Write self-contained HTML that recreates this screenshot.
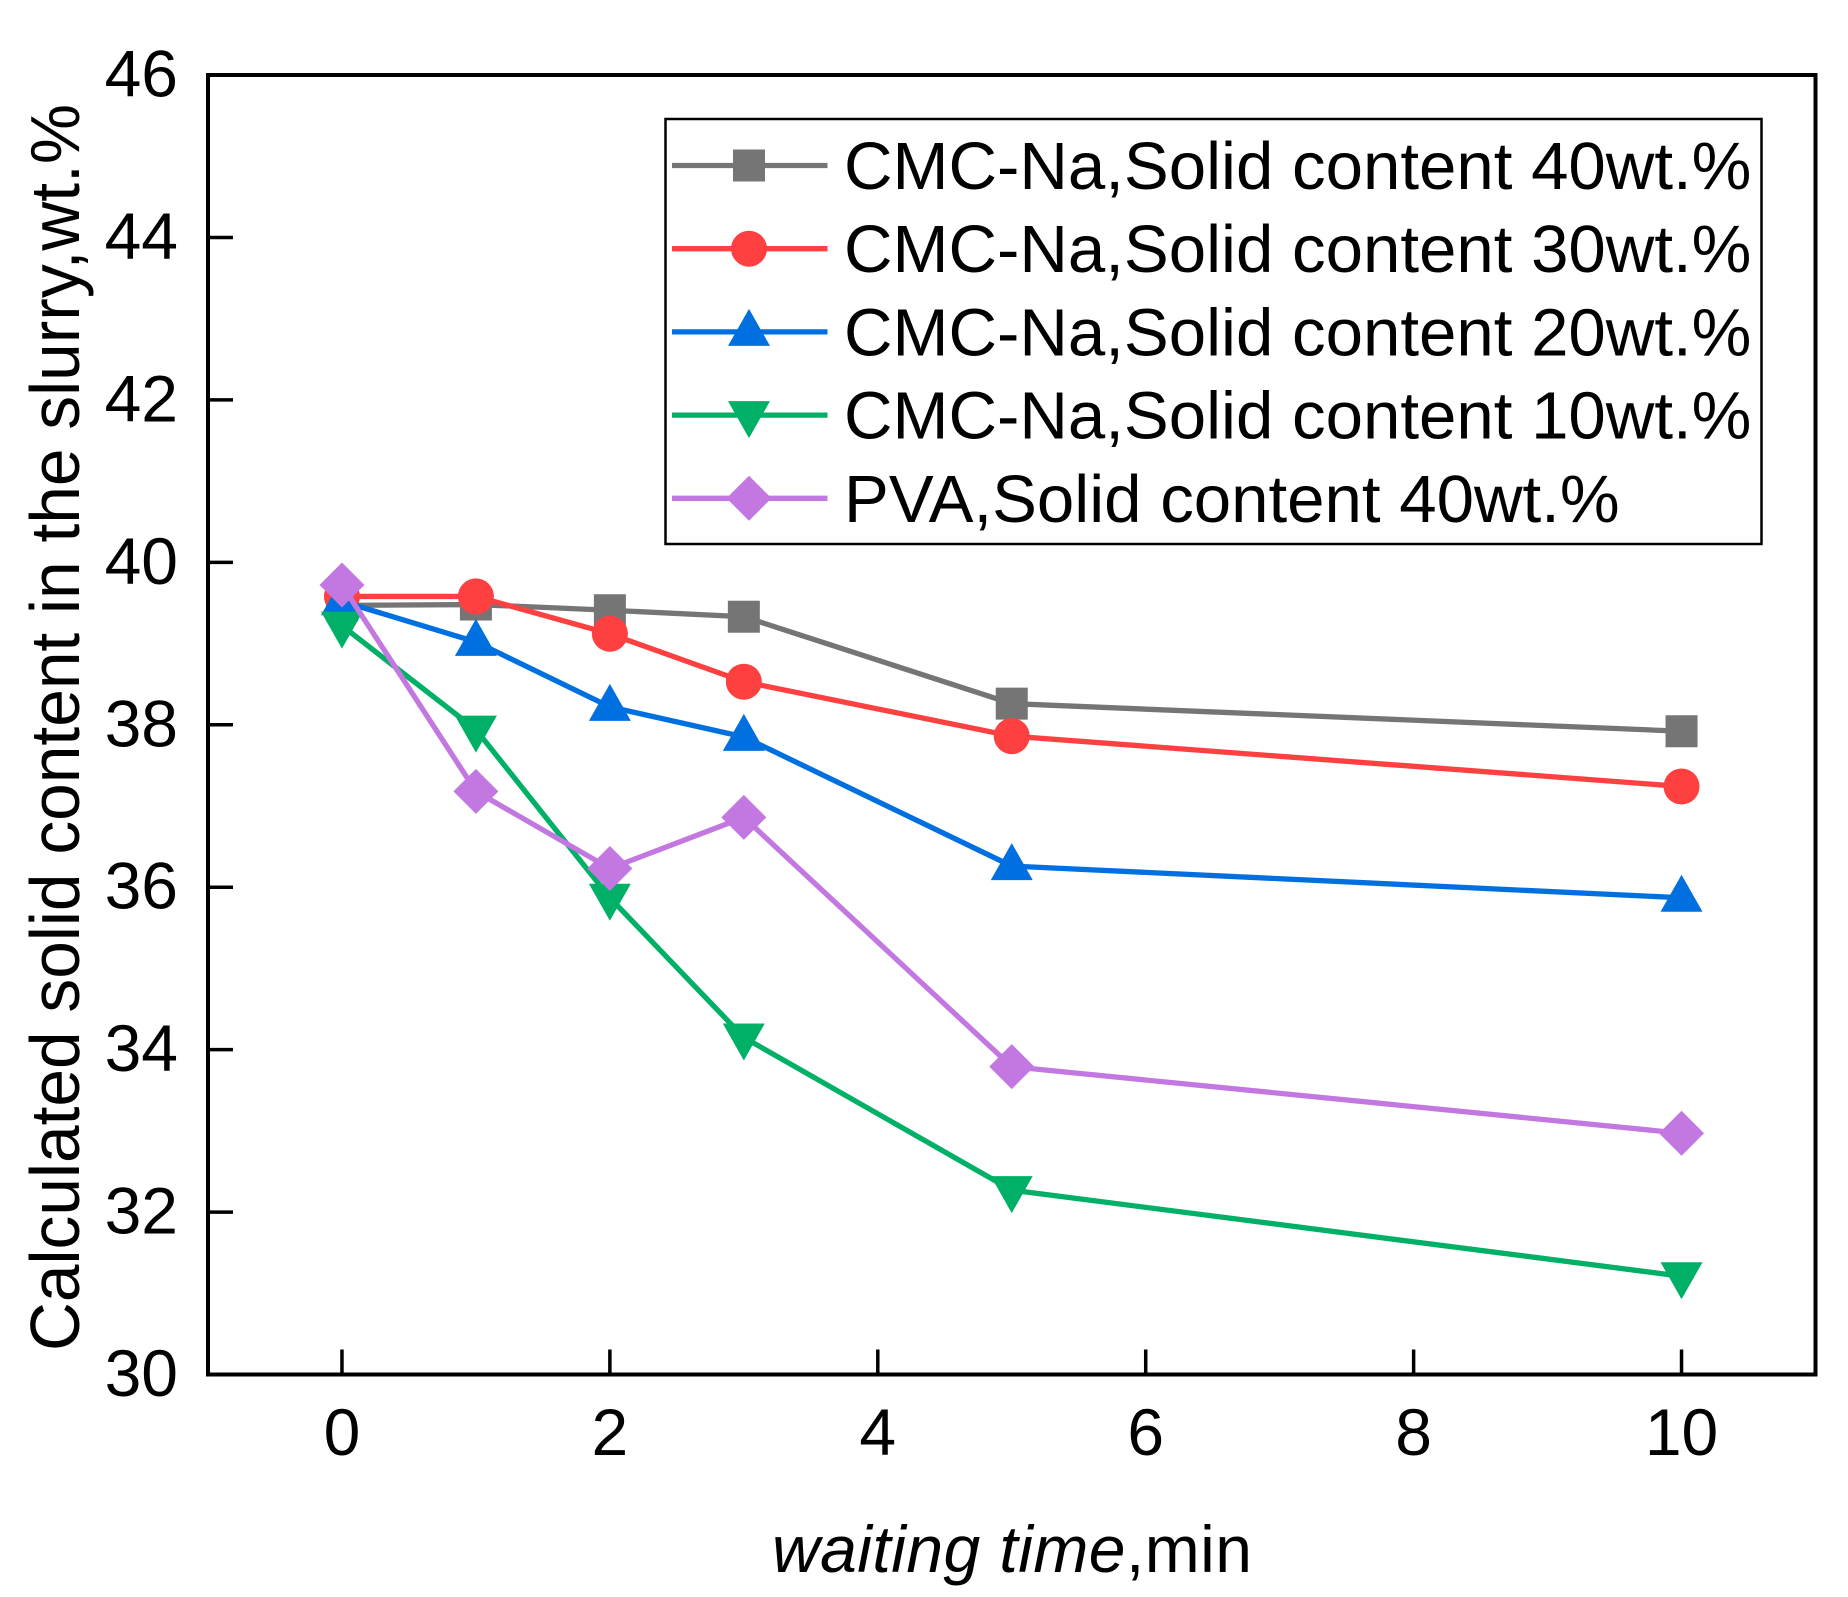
<!DOCTYPE html>
<html lang="en">
<head>
<meta charset="utf-8">
<title>Solid content vs waiting time</title>
<style>
html,body{margin:0;padding:0;background:#fff;width:1848px;height:1597px;overflow:hidden}
svg{display:block}
text{font-family:"Liberation Sans",Arial,sans-serif;fill:#000}
</style>
</head>
<body>
<svg id="chart" xmlns="http://www.w3.org/2000/svg" width="1848" height="1597" viewBox="0 0 1848 1597">
  <rect x="0" y="0" width="1848" height="1597" fill="#fff"/>
  <rect x="208" y="75" width="1607.5" height="1299.5" fill="none" stroke="#000" stroke-width="4"/>
  <g id="ticks"></g>
  <g id="series"></g>
  <rect x="665.5" y="119" width="1096" height="425" fill="#fff" stroke="#000" stroke-width="2.5"/>
  <g id="legend"></g>
  <text transform="translate(79 1351) rotate(-90)" font-size="70" textLength="1247" lengthAdjust="spacingAndGlyphs">Calculated solid content in the slurry,wt.%</text>
  <text x="772" y="1572" font-size="66" textLength="480" lengthAdjust="spacing"><tspan font-style="italic">waiting time</tspan>,min</text>
</svg>
<script>
const xTicks = [0, 2, 4, 6, 8, 10];
const yTicks = [30, 32, 34, 36, 38, 40, 42, 44, 46];
const waitingTimes = [0, 1, 2, 3, 5, 10];
const cmc40 = [39.47, 39.48, 39.41, 39.33, 38.26, 37.92];
const cmc30 = [39.58, 39.58, 39.12, 38.53, 37.86, 37.24];
const cmc20 = [39.52, 39.02, 38.22, 37.85, 36.26, 35.87];
const cmc10 = [39.22, 37.94, 35.87, 34.15, 32.27, 31.21];
const pva40 = [39.72, 37.18, 36.23, 36.86, 33.79, 32.97];
const legendLabels = [
  "CMC-Na,Solid content 40wt.%",
  "CMC-Na,Solid content 30wt.%",
  "CMC-Na,Solid content 20wt.%",
  "CMC-Na,Solid content 10wt.%",
  "PVA,Solid content 40wt.%"
];

const SVG_NS = "http://www.w3.org/2000/svg";
const plot = { left: 208, right: 1815.5, top: 75, bottom: 1374.5 };
const xDomain = [-1, 11];
const yDomain = [30, 46];

function xScale(v) {
  return plot.left + (v - xDomain[0]) / (xDomain[1] - xDomain[0]) * (plot.right - plot.left);
}
function yScale(v) {
  return plot.bottom - (v - yDomain[0]) / (yDomain[1] - yDomain[0]) * (plot.bottom - plot.top);
}
function make(tag, attrs, parent) {
  const el = document.createElementNS(SVG_NS, tag);
  for (const key in attrs) el.setAttribute(key, attrs[key]);
  parent.appendChild(el);
  return el;
}
function drawMarker(shape, cx, cy, color, parent, name) {
  let el;
  if (shape === "square") {
    el = make("rect", { x: cx - 16, y: cy - 16, width: 32, height: 32, fill: color }, parent);
  } else if (shape === "circle") {
    el = make("circle", { cx: cx, cy: cy, r: 18, fill: color }, parent);
  } else if (shape === "up") {
    el = make("polygon", { points: `${cx},${cy - 23} ${cx + 21},${cy + 14} ${cx - 21},${cy + 14}`, fill: color }, parent);
  } else if (shape === "down") {
    el = make("polygon", { points: `${cx - 21},${cy - 14} ${cx + 21},${cy - 14} ${cx},${cy + 23}`, fill: color }, parent);
  } else {
    el = make("polygon", { points: `${cx},${cy - 22.5} ${cx + 22.5},${cy} ${cx},${cy + 22.5} ${cx - 22.5},${cy}`, fill: color }, parent);
  }
  
  
  return el;
}

const tickGroup = document.getElementById("ticks");
yTicks.forEach(function (t) {
  const y = yScale(t);
  if (t !== yDomain[0] && t !== yDomain[1]) {
    const line = make("line", { x1: plot.left, x2: plot.left + 25, y1: y, y2: y, stroke: "#000", "stroke-width": 3.5 }, tickGroup);
    
    
  }
  const label = make("text", { x: 178, y: y + 21.5, "font-size": 66, "text-anchor": "end" }, tickGroup);
  
  
  label.textContent = t;
});
xTicks.forEach(function (t) {
  const x = xScale(t);
  const line = make("line", { x1: x, x2: x, y1: plot.bottom, y2: plot.bottom - 25, stroke: "#000", "stroke-width": 3.5 }, tickGroup);
  
  
  const label = make("text", { x: x, y: 1455, "font-size": 66, "text-anchor": "middle" }, tickGroup);
  
  
  label.textContent = t;
});

const seriesList = [
  { key: "cmc-40", values: cmc40, color: "#757575", shape: "square" },
  { key: "cmc-30", values: cmc30, color: "#FF4040", shape: "circle" },
  { key: "cmc-20", values: cmc20, color: "#0070E0", shape: "up" },
  { key: "cmc-10", values: cmc10, color: "#00B066", shape: "down" },
  { key: "pva-40", values: pva40, color: "#C278E0", shape: "diamond" }
];

const seriesGroup = document.getElementById("series");
seriesList.forEach(function (s) {
  const pts = s.values.map(function (v, i) {
    return xScale(waitingTimes[i]) + "," + yScale(v);
  }).join(" ");
  const line = make("polyline", { points: pts, fill: "none", stroke: s.color, "stroke-width": 5.3, "stroke-linejoin": "miter" }, seriesGroup);
  
  
  s.values.forEach(function (v, i) {
    drawMarker(s.shape, xScale(waitingTimes[i]), yScale(v), s.color, seriesGroup, 'point-' + s.key);
  });
});

const legendGroup = document.getElementById("legend");
const legendLineY = 165.5;
const legendStep = 83.2;
seriesList.forEach(function (s, i) {
  const y = legendLineY + i * legendStep;
  const entry = make("g", {}, legendGroup);
  
  
  const line = make("line", { x1: 672, x2: 827.5, y1: y, y2: y, stroke: s.color, "stroke-width": 5.3 }, entry);
  
  
  drawMarker(s.shape, 749, y, s.color, entry, 'legend-marker');
  const label = make("text", { x: 844, y: y + 23.5, "font-size": 67.2 }, entry);
  
  
  label.textContent = legendLabels[i];
});
</script>
</body>
</html>
